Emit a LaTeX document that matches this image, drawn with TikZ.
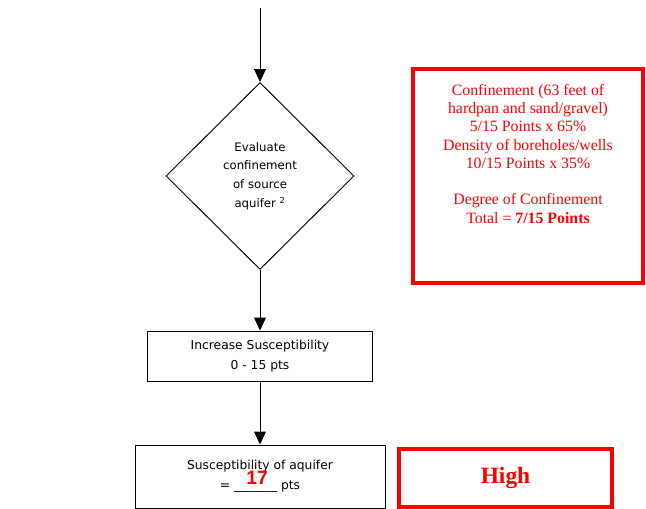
\documentclass[tikz,border=0pt]{standalone}
\usepackage{fontspec}
\setmainfont{Liberation Serif}
\newfontfamily\comicfont{DejaVu Sans}
\newfontfamily\arialfont{Liberation Sans}
\usetikzlibrary{shapes.geometric,arrows.meta}
\tikzset{
    flow/.style={-{Triangle[width=10pt,length=11pt]}, line width=0.8pt},
    decision/.style={diamond, draw, line width=0.8pt, aspect=1, minimum width=5.64cm, minimum height=5.61cm, inner sep=0pt, align=center, font=\comicfont\fontsize{10}{16}\selectfont},
    process/.style={rectangle, draw, line width=0.8pt, align=center, font=\comicfont\fontsize{10.5}{17.5}\selectfont},
    redbox/.style={rectangle, draw=red, line width=2.6pt, inner sep=0pt},
    redtext/.style={text=red, font=\fontsize{13.5}{15.6}\selectfont},
    score/.style={text=red, font=\arialfont\bfseries\fontsize{16.5}{18}\selectfont}
}

\begin{document}
\begin{tikzpicture}[x=0.03cm, y=-0.03cm]
\useasboundingbox (0,0) rectangle (646,509);

% Flow chart
\coordinate (start) at (260,8);
\node[decision] (evaluate) at (260,176) {Evaluate\\confinement\\of source\\aquifer \textsuperscript{2}};
\node[process, minimum width=6.75cm, minimum height=1.5cm] (increase) at (260,356) {Increase Susceptibility\\0 - 15 pts};
\node[process, minimum width=7.5cm, minimum height=1.89cm] (result) at (260,476.5) {Susceptibility of aquifer\\= \_\_\_\_\_\_\_ pts};
\node[score] (points) at (257,477.5) {17};

% Arrows
\draw[flow] (start) -- (evaluate.north);
\draw[flow] (evaluate.south) -- (increase.north);
\draw[flow] (increase.south) -- (result.north);

% Red boxes
\node[redbox, redtext] (confinement) at (528,176) {\begin{minipage}[c][6.42cm][t]{6.9cm}\centering\vspace*{13pt}
Confinement (63 feet of\\
hardpan and sand/gravel)\\
5/15 Points x 65\%\\
Density of boreholes/wells\\
10/15 Points x 35\%\\[15.5pt]
Degree of Confinement\\
Total = \textbf{7/15 Points}
\end{minipage}};
\node[redbox, minimum width=6.39cm, minimum height=1.74cm, text=red, font=\bfseries\fontsize{20}{24}\selectfont] (rating) at (505.5,478) {High};
\end{tikzpicture}
\end{document}
